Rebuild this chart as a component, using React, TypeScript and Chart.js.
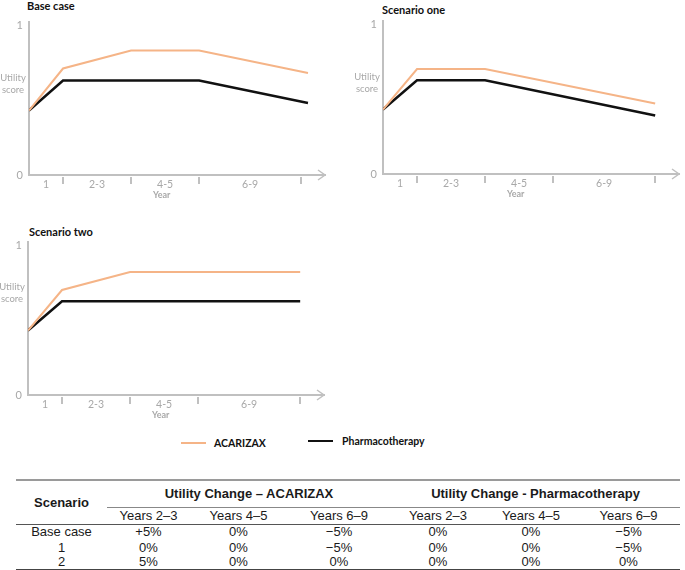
import React, { useEffect, useRef } from 'react';
import { Chart, registerables } from 'chart.js';

Chart.register(...registerables);

// ---- Chart data ----
const periodLabels = ['1', '2-3', '4-5', '6-9'];
const periodLabelPos = [0.5, 2, 4, 6.5];
const periodBoundaries = [1, 3, 5, 8];
const yTickValues = [0, 1];

const seriesNames = ['ACARIZAX', 'Pharmacotherapy'];
const seriesColors = ['#f5b487', '#111111'];

const baseYears = [0, 1, 3, 5, 8.2];
const baseAcarizax = [0.43, 0.71, 0.83, 0.83, 0.68];
const basePharma = [0.43, 0.63, 0.63, 0.63, 0.48];

const oneYears = [0, 1, 3, 8];
const oneAcarizax = [0.43, 0.7, 0.7, 0.47];
const onePharma = [0.43, 0.625, 0.625, 0.39];

const twoYears = [0, 1, 3, 8];
const twoAcarizax = [0.43, 0.7, 0.82, 0.82];
const twoPharma = [0.43, 0.625, 0.625, 0.625];

// ---- Table data ----
const tableScenarios = ['Base case', '1', '2'];
const groupHeaders = ['Utility Change \u2013 ACARIZAX', 'Utility Change - Pharmacotherapy'];
const subHeaders = ['Years 2\u20133', 'Years 4\u20135', 'Years 6\u20139'];
const acarizaxChange = [
  ['+5%', '0%', '\u22125%'],
  ['0%', '0%', '\u22125%'],
  ['5%', '0%', '0%'],
];
const pharmaChange = [
  ['0%', '0%', '\u22125%'],
  ['0%', '0%', '\u22125%'],
  ['0%', '0%', '0%'],
];

const AXIS = '#c0c0c0';
const LABEL = '#a8a8a8';
const FONT = 'Lato, "Open Sans", sans-serif';
const TABLE_FONT = '"Liberation Sans", Arial, sans-serif';

const CW = 340;
const CH = 205;

type Props = {
  years: number[];
  acarizax: number[];
  pharma: number[];
  left: number;
  top: number;
  labelValue: number;
};

function UtilityChart({ years, acarizax, pharma, left, top, labelValue }: Props) {
  const ref = useRef<HTMLCanvasElement>(null);
  useEffect(() => {
    const decor = {
      id: 'decor',
      afterDraw(chart: any) {
        const { ctx } = chart;
        const xs = chart.scales.x;
        const ys = chart.scales.y;
        ctx.save();
        ctx.strokeStyle = AXIS;
        ctx.lineWidth = 2;
        // tick marks at period boundaries
        periodBoundaries.forEach((b) => {
          const px = Math.round(xs.getPixelForValue(b));
          ctx.beginPath();
          ctx.moveTo(px, xs.top + 2);
          ctx.lineTo(px, xs.top + 9);
          ctx.stroke();
        });
        // arrow head
        const ax = xs.right;
        const ay = xs.top;
        ctx.lineWidth = 1.5;
        ctx.beginPath();
        ctx.moveTo(ax - 7, ay - 5);
        ctx.lineTo(ax, ay);
        ctx.lineTo(ax - 7, ay + 5);
        ctx.stroke();
        // Year title
        ctx.fillStyle = LABEL;
        ctx.font = `bold 9px ${FONT}`;
        ctx.textAlign = 'center';
        ctx.textBaseline = 'middle';
        ctx.fillText('Year', xs.getPixelForValue(3.9), xs.top + 20);
        // Utility score label
        ctx.font = `9.5px ${FONT}`;
        const cx = chart.chartArea.left - 16;
        const cy = ys.getPixelForValue(labelValue);
        ctx.fillText('Utility', cx, cy - 6);
        ctx.fillText('score', cx, cy + 6);
        ctx.restore();
      },
    };

    const chart = new Chart(ref.current as HTMLCanvasElement, {
      type: 'line',
      data: {
        datasets: [
          {
            label: seriesNames[0],
            data: years.map((x, i) => ({ x, y: acarizax[i] })),
            borderColor: seriesColors[0],
            borderWidth: 2,
            pointRadius: 0,
            tension: 0,
            fill: false,
          },
          {
            label: seriesNames[1],
            data: years.map((x, i) => ({ x, y: pharma[i] })),
            borderColor: seriesColors[1],
            borderWidth: 2.5,
            pointRadius: 0,
            tension: 0,
            fill: false,
          },
        ],
      },
      options: {
        responsive: false,
        animation: false,
        layout: { padding: { top: 22, right: 15, left: 0, bottom: 0 } },
        plugins: { legend: { display: false }, tooltip: { enabled: false }, title: { display: false } },
        scales: {
          x: {
            type: 'linear',
            min: 0,
            max: 8.7,
            afterBuildTicks: (s: any) => {
              s.ticks = periodLabelPos.map((v) => ({ value: v }));
            },
            afterFit: (s: any) => {
              s.height = CH - 175;
            },
            ticks: {
              autoSkip: false,
              maxRotation: 0,
              color: LABEL,
              font: { family: FONT, size: 10.5 },
              padding: 3,
              callback: (_v: any, i: number) => periodLabels[i],
            },
            grid: { display: false, drawTicks: false },
            border: { color: AXIS, width: 2 },
          },
          y: {
            type: 'linear',
            min: 0,
            max: 1.02,
            afterBuildTicks: (s: any) => {
              s.ticks = yTickValues.map((v) => ({ value: v }));
            },
            afterFit: (s: any) => {
              s.width = 29;
            },
            ticks: {
              color: LABEL,
              font: { family: FONT, size: 11 },
              padding: 6,
              callback: (v: any) => String(v),
            },
            grid: { display: false, drawTicks: false },
            border: { color: AXIS, width: 2 },
          },
        },
      },
      plugins: [decor],
    } as any);
    return () => chart.destroy();
  }, []);
  return (
    <canvas
      ref={ref}
      width={CW}
      height={CH}
      style={{ position: 'absolute', left, top, width: CW, height: CH }}
    />
  );
}

const titleStyle = (left: number, top: number): React.CSSProperties => ({
  position: 'absolute',
  left,
  top,
  font: `bold 11px ${FONT}`,
  lineHeight: '12px',
  color: '#111',
  whiteSpace: 'nowrap',
});

const colWidths = [91, 83, 97, 104, 94, 92, 103];

export default function App() {
  const cell: React.CSSProperties = { padding: 0, textAlign: 'center', whiteSpace: 'nowrap' };
  return (
    <div
      style={{
        position: 'absolute',
        left: 0,
        top: 0,
        width: 685,
        height: 570,
        overflow: 'hidden',
        background: '#fff',
      }}
    >
      <div style={titleStyle(27, 0)}>Base case</div>
      <div style={titleStyle(382, 4)}>Scenario one</div>
      <div style={titleStyle(29, 226)}>Scenario two</div>

      <UtilityChart years={baseYears} acarizax={baseAcarizax} pharma={basePharma} left={0} top={0} labelValue={0.61} />
      <UtilityChart years={oneYears} acarizax={oneAcarizax} pharma={onePharma} left={354} top={-1} labelValue={0.61} />
      <UtilityChart years={twoYears} acarizax={twoAcarizax} pharma={twoPharma} left={-1} top={220} labelValue={0.68} />

      {/* legend */}
      <div style={{ position: 'absolute', left: 181, top: 442, width: 25, height: 2, background: seriesColors[0] }} />
      <div style={{ position: 'absolute', left: 214, top: 436, font: `bold 10.5px ${FONT}`, lineHeight: '14px', color: '#111' }}>
        {seriesNames[0]}
      </div>
      <div style={{ position: 'absolute', left: 308, top: 440, width: 25, height: 2, background: seriesColors[1] }} />
      <div style={{ position: 'absolute', left: 342, top: 434, font: `bold 10.5px ${FONT}`, lineHeight: '14px', color: '#111' }}>
        {seriesNames[1]}
      </div>

      {/* table */}
      <table
        style={{
          position: 'absolute',
          left: 16,
          top: 479,
          width: 664,
          borderCollapse: 'collapse',
          tableLayout: 'fixed',
          font: `13px ${TABLE_FONT}`,
          color: '#1a1a1a',
          borderTop: '2px solid #9a9a9a',
          borderBottom: '2px solid #444',
        }}
      >
        <colgroup>
          {colWidths.map((w, i) => (
            <col key={i} style={{ width: w }} />
          ))}
        </colgroup>
        <tbody>
          <tr style={{ height: 27 }}>
            <th rowSpan={2} style={{ ...cell, fontWeight: 'bold', borderBottom: '1px solid #555' }}>
              Scenario
            </th>
            {groupHeaders.map((g, i) => (
              <th key={i} colSpan={3} style={{ ...cell, fontWeight: 'bold', borderBottom: '1px solid #888' }}>
                {g}
              </th>
            ))}
          </tr>
          <tr style={{ height: 17 }}>
            {[...subHeaders, ...subHeaders].map((s, i) => (
              <td key={i} style={{ ...cell, borderBottom: '1px solid #555', lineHeight: '15px' }}>
                {s}
              </td>
            ))}
          </tr>
          {tableScenarios.map((sc, r) => (
            <tr key={r} style={{ height: r === 0 ? 16 : 15 }}>
              <td style={{ ...cell, lineHeight: '14px' }}>{sc}</td>
              {[...acarizaxChange[r], ...pharmaChange[r]].map((v, i) => (
                <td key={i} style={{ ...cell, lineHeight: '14px' }}>
                  {v}
                </td>
              ))}
            </tr>
          ))}
        </tbody>
      </table>
    </div>
  );
}
